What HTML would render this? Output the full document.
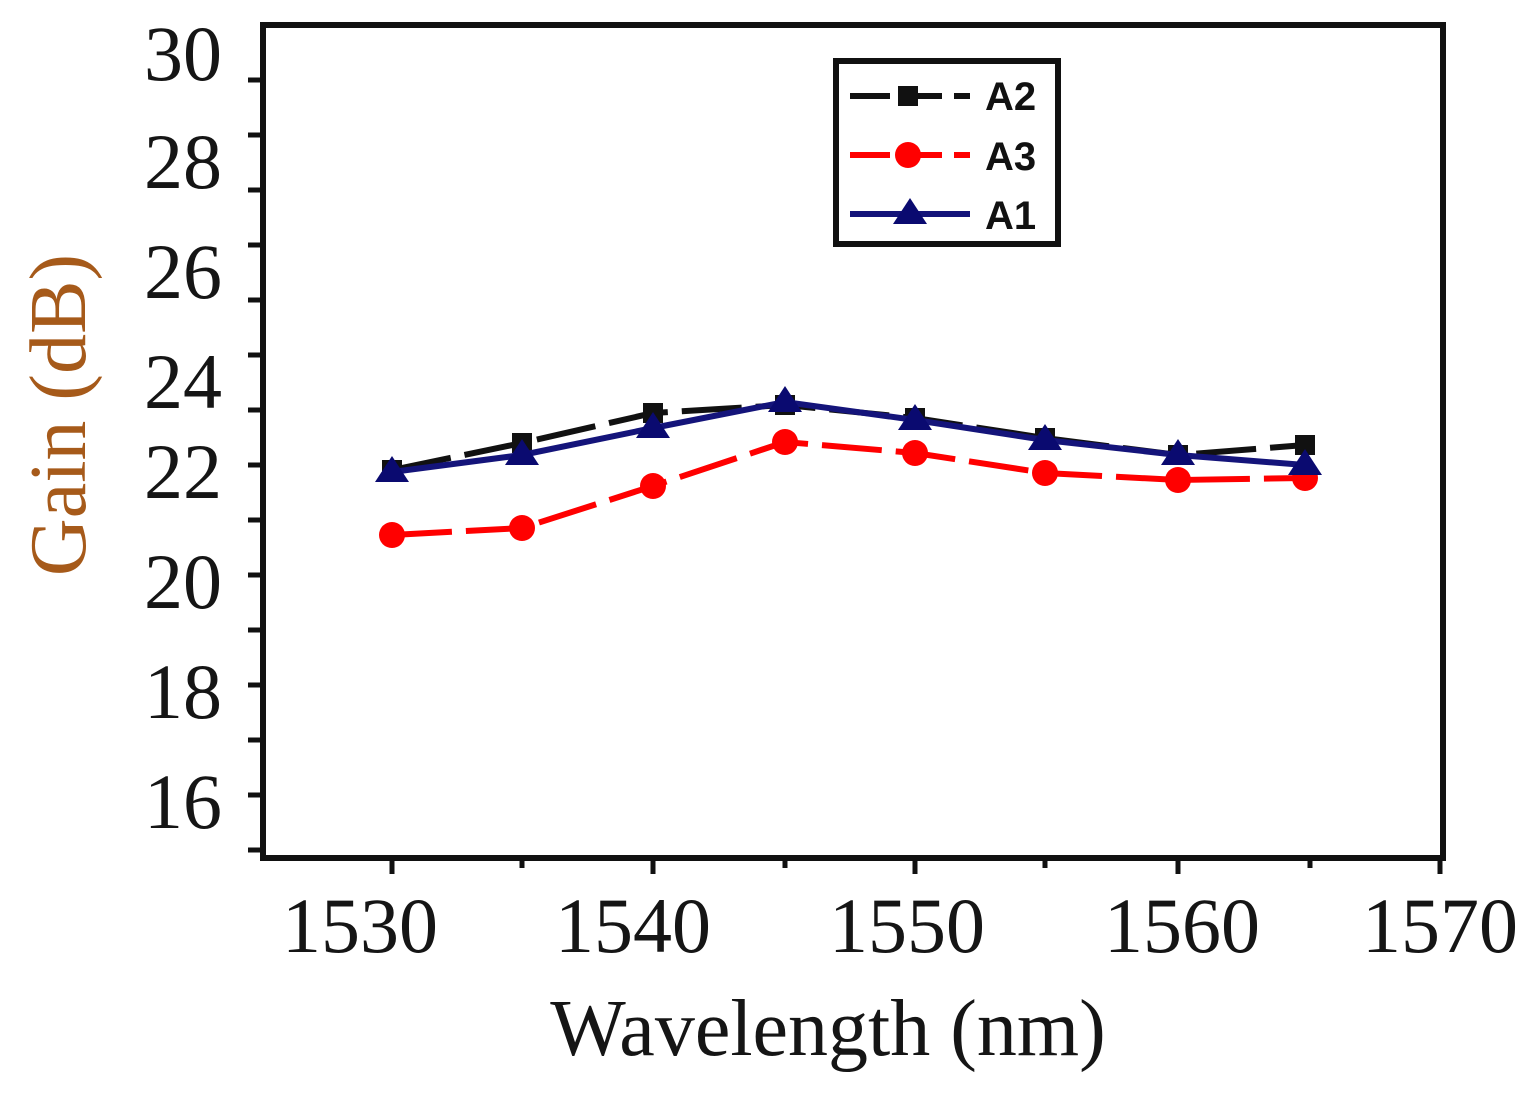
<!DOCTYPE html>
<html><head><meta charset="utf-8"><style>body{margin:0;background:#fff}</style></head>
<body>
<svg width="1538" height="1093" xmlns="http://www.w3.org/2000/svg" font-family="Liberation Serif, serif">
<rect x="263" y="25" width="1180" height="833" fill="none" stroke="#111" stroke-width="6"/>
<g stroke="#111" stroke-width="5">
<line x1="248" y1="80" x2="263" y2="80"/><line x1="248" y1="135" x2="263" y2="135"/><line x1="248" y1="190" x2="263" y2="190"/><line x1="248" y1="245" x2="263" y2="245"/><line x1="248" y1="300" x2="263" y2="300"/><line x1="248" y1="355" x2="263" y2="355"/><line x1="248" y1="410" x2="263" y2="410"/><line x1="248" y1="465" x2="263" y2="465"/><line x1="248" y1="520" x2="263" y2="520"/><line x1="248" y1="575" x2="263" y2="575"/><line x1="248" y1="630" x2="263" y2="630"/><line x1="248" y1="685" x2="263" y2="685"/><line x1="248" y1="740" x2="263" y2="740"/><line x1="248" y1="795" x2="263" y2="795"/><line x1="248" y1="850" x2="263" y2="850"/>
<line x1="392" y1="858" x2="392" y2="874"/><line x1="522" y1="858" x2="522" y2="868"/><line x1="653" y1="858" x2="653" y2="874"/><line x1="785" y1="858" x2="785" y2="868"/><line x1="915" y1="858" x2="915" y2="874"/><line x1="1045" y1="858" x2="1045" y2="868"/><line x1="1178" y1="858" x2="1178" y2="874"/><line x1="1310" y1="858" x2="1310" y2="868"/><line x1="1440" y1="858" x2="1440" y2="874"/>
</g>
<g font-size="78" fill="#151515" text-anchor="end">
<text x="222" y="80">30</text><text x="222" y="188">28</text><text x="222" y="298">26</text><text x="222" y="408">24</text><text x="222" y="498">22</text><text x="222" y="608">20</text><text x="222" y="718">18</text><text x="222" y="828">16</text>
</g>
<g font-size="78" fill="#151515" text-anchor="middle">
<text x="360" y="952">1530</text><text x="633" y="952">1540</text><text x="907" y="952">1550</text><text x="1182" y="952">1560</text><text x="1440" y="952">1570</text>
</g>
<text x="828" y="1055" font-size="80" text-anchor="middle" fill="#151515">Wavelength (nm)</text>
<text transform="translate(85,415) rotate(-90)" font-size="80" text-anchor="middle" fill="#a65a1a">Gain (dB)</text>
<!-- A2 -->
<polyline fill="none" stroke="#111" stroke-width="6" stroke-dasharray="60,14" points="392,470 522,443 653,413 785,405 915,418 1045,438 1178,455 1305,445"/>
<g fill="#111"><rect x="382" y="460" width="20" height="20"/><rect x="512" y="433" width="20" height="20"/><rect x="643" y="403" width="20" height="20"/><rect x="775" y="395" width="20" height="20"/><rect x="905" y="408" width="20" height="20"/><rect x="1035" y="428" width="20" height="20"/><rect x="1168" y="445" width="20" height="20"/><rect x="1295" y="435" width="20" height="20"/></g>
<!-- A3 -->
<polyline fill="none" stroke="#f00" stroke-width="6" stroke-dasharray="60,14" points="392,535 522,528 653,486 785,442 915,453 1045,473 1178,480 1305,478"/>
<g fill="#f00"><circle cx="392" cy="535" r="13"/><circle cx="522" cy="528" r="13"/><circle cx="653" cy="486" r="13"/><circle cx="785" cy="442" r="13"/><circle cx="915" cy="453" r="13"/><circle cx="1045" cy="473" r="13"/><circle cx="1178" cy="480" r="13"/><circle cx="1305" cy="478" r="13"/></g>
<!-- A1 -->
<polyline fill="none" stroke="#14147a" stroke-width="6" points="392,472 522,455 653,428 785,402 915,420 1045,440 1178,455 1305,465"/>
<g fill="#0a0a70"><path d="M392,456 l17,26 h-34z"/><path d="M522,439 l17,26 h-34z"/><path d="M653,412 l17,26 h-34z"/><path d="M785,386 l17,26 h-34z"/><path d="M915,404 l17,26 h-34z"/><path d="M1045,424 l17,26 h-34z"/><path d="M1178,439 l17,26 h-34z"/><path d="M1305,449 l17,26 h-34z"/></g>
<!-- legend -->
<rect x="836" y="61" width="222" height="183" fill="#fff" stroke="#111" stroke-width="6"/>
<line x1="850" y1="96" x2="970" y2="96" stroke="#111" stroke-width="6" stroke-dasharray="40,12"/>
<rect x="898" y="86" width="20" height="20" fill="#111"/>
<line x1="850" y1="155" x2="970" y2="155" stroke="#f00" stroke-width="6" stroke-dasharray="40,12"/>
<circle cx="908" cy="155" r="13" fill="#f00"/>
<line x1="850" y1="214" x2="970" y2="214" stroke="#14147a" stroke-width="6"/>
<path d="M910,198 l17,26 h-34z" fill="#0a0a70"/>
<g font-family="Liberation Sans, sans-serif" font-weight="bold" font-size="40" fill="#111">
<text x="985" y="110">A2</text><text x="985" y="170">A3</text><text x="985" y="229">A1</text></g>
</svg>
</body></html>
